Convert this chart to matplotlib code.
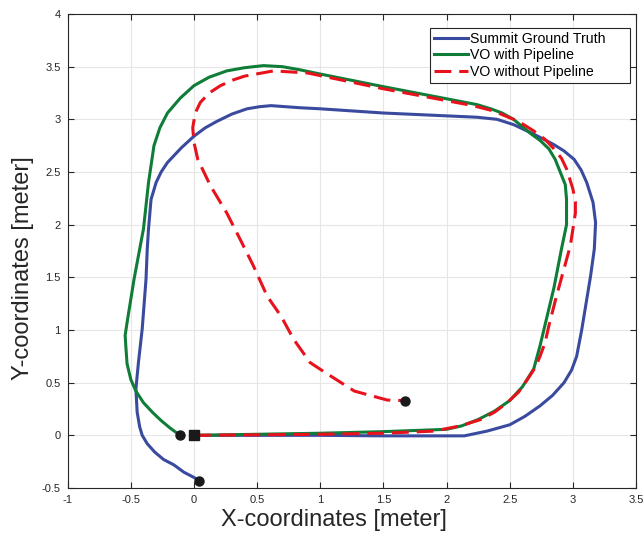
import numpy as np
import matplotlib
matplotlib.use("Agg")
import matplotlib.pyplot as plt

plt.rcParams['font.family'] = ['Liberation Sans', 'DejaVu Sans']

# trajectories (x, y) in meters, all starting at the origin
gt_x = [0.0, 0.5, 1.0, 1.5, 2.0, 2.14, 2.32, 2.50, 2.62, 2.74, 2.84, 2.93, 2.99, 3.03,
        3.07, 3.14, 3.17, 3.18, 3.16, 3.11, 3.065, 3.01, 2.93, 2.85, 2.69, 2.53, 2.40,
        2.24, 1.50, 1.00, 0.84, 0.61, 0.52, 0.42, 0.30, 0.18, 0.09, 0.0, -0.10, -0.21,
        -0.26, -0.30, -0.34, -0.36, -0.37, -0.38, -0.41, -0.44, -0.46, -0.45, -0.43,
        -0.41, -0.37, -0.31, -0.24, -0.16, -0.08, 0.0, 0.04]
gt_y = [0.0, 0.0, 0.0, -0.005, -0.005, -0.005, 0.04, 0.10, 0.18, 0.28, 0.38, 0.50, 0.62,
        0.75, 1.0, 1.51, 1.77, 2.02, 2.21, 2.40, 2.52, 2.62, 2.70, 2.76, 2.86, 2.95, 3.0,
        3.02, 3.06, 3.10, 3.11, 3.13, 3.12, 3.10, 3.05, 2.98, 2.92, 2.84, 2.73, 2.59,
        2.50, 2.40, 2.24, 1.96, 1.77, 1.48, 1.01, 0.69, 0.44, 0.22, 0.08,
        0.0, -0.08, -0.16, -0.23, -0.28, -0.35, -0.40, -0.43]

vo_x = [0.0, 0.5, 1.0, 1.5, 2.0, 2.12, 2.25, 2.38, 2.5, 2.60, 2.69, 2.74, 2.85, 2.91,
        2.95, 2.95, 2.94, 2.90, 2.86, 2.81, 2.74, 2.66, 2.53, 2.44, 2.35, 2.24, 1.50,
        1.00, 0.84, 0.70, 0.55, 0.40, 0.26, 0.12, 0.0, -0.11, -0.21, -0.27, -0.317,
        -0.36, -0.40, -0.475, -0.53, -0.545, -0.54, -0.53, -0.50, -0.46, -0.40, -0.33,
        -0.26, -0.19, -0.11]
vo_y = [0.0, 0.01, 0.02, 0.035, 0.057, 0.09, 0.15, 0.23, 0.33, 0.46, 0.63, 0.85, 1.40,
        1.77, 2.0, 2.24, 2.38, 2.50, 2.62, 2.72, 2.80, 2.87, 3.0, 3.06, 3.10, 3.14, 3.31,
        3.43, 3.47, 3.50, 3.51, 3.49, 3.46, 3.40, 3.32, 3.20, 3.06, 2.92, 2.75,
        2.40, 1.96, 1.48, 1.07, 0.95, 0.85, 0.68, 0.53, 0.42, 0.31, 0.22,
        0.14, 0.07, 0.0]

raw_x = [0.0, 0.5, 1.0, 1.5, 1.90, 2.11, 2.27, 2.38, 2.48, 2.57, 2.64, 2.70, 2.74, 2.78,
         2.81, 2.87, 2.98, 3.02, 3.02, 3.00, 2.95, 2.91, 2.85, 2.78, 2.69, 2.61, 2.53,
         2.45, 2.37, 2.21, 1.50, 0.90, 0.63, 0.40, 0.30, 0.21, 0.12, 0.05, 0.01, -0.01,
         0.0, 0.03, 0.13, 0.26, 0.37, 0.47, 0.58, 0.69, 0.79, 0.92, 1.06, 1.27, 1.53, 1.67]
raw_y = [0.0, 0.005, 0.01, 0.02, 0.04, 0.09, 0.15, 0.22, 0.31, 0.41, 0.53, 0.64, 0.75,
         0.88, 1.04, 1.32, 1.80, 2.11, 2.22, 2.34, 2.53, 2.63, 2.72, 2.81, 2.89, 2.95,
         3.0, 3.04, 3.08, 3.13, 3.29, 3.44, 3.46, 3.41, 3.37, 3.32, 3.25, 3.16, 3.06,
         2.92, 2.78, 2.62, 2.37, 2.11, 1.85, 1.61, 1.32, 1.13, 0.91, 0.69, 0.58, 0.42,
         0.335, 0.33]

labels = ['Summit Ground Truth', 'VO with Pipeline', 'VO without Pipeline']
colors = ['#3a4a9f', '#0f7d37', '#e8121c']

fig = plt.figure(figsize=(6.44, 5.37), dpi=100)
ax = fig.add_axes([67.7 / 644, 49 / 537, 568.3 / 644, 474 / 537])

ax.plot(gt_x, gt_y, color=colors[0], lw=2.2, label=labels[0], solid_joinstyle='round')
ax.plot(vo_x, vo_y, color=colors[1], lw=2.2, label=labels[1], solid_joinstyle='round')
ax.plot(raw_x, raw_y, color=colors[2], lw=2.2, dashes=(5.5, 2.6), label=labels[2])

# start and end points
ax.plot(gt_x[0], gt_y[0], 's', color='#1a1a1a', ms=6.5, zorder=5)
for xs, ys in [(gt_x, gt_y), (vo_x, vo_y), (raw_x, raw_y)]:
    ax.plot(xs[-1], ys[-1], 'o', color='#1a1a1a', ms=6.5, zorder=5)

ax.set_xlim(-1, 3.5)
ax.set_ylim(-0.5, 4)
ax.set_xticks(np.arange(-1, 3.51, 0.5))
ax.set_yticks(np.arange(-0.5, 4.01, 0.5))
ax.set_xticklabels(['-1', '-0.5', '0', '0.5', '1', '1.5', '2', '2.5', '3', '3.5'])
ax.set_yticklabels(['-0.5', '0', '0.5', '1', '1.5', '2', '2.5', '3', '3.5', '4'])
ax.grid(True, color='#e6e6e6', lw=0.8)
ax.set_axisbelow(True)
ax.tick_params(direction='in', top=True, right=True, labelsize=8, colors='#262626',
               length=4, width=0.8, pad=5)
for s in ax.spines.values():
    s.set_color('#262626')
    s.set_linewidth(0.8)

ax.set_xlabel('X-coordinates [meter]', fontsize=17, color='#262626')
ax.set_ylabel('Y-coordinates [meter]', fontsize=17, color='#262626')
ax.xaxis.set_label_coords(0.4686, -0.044)
ax.yaxis.set_label_coords(-0.060, 0.464)

# legend box stretched to a fixed width, entries kept left-aligned
leg = ax.legend(loc='upper left', bbox_to_anchor=(0.6375, 0.5, 0.352, 0.4705),
                mode='expand', borderaxespad=0,
                fontsize=10.2, handlelength=2.4, handletextpad=0.2,
                borderpad=0.25, labelspacing=0.2, fancybox=False, framealpha=1)
leg.get_frame().set_edgecolor('#262626')
leg.get_frame().set_linewidth(0.8)

fig.savefig('out.png', dpi=100)
